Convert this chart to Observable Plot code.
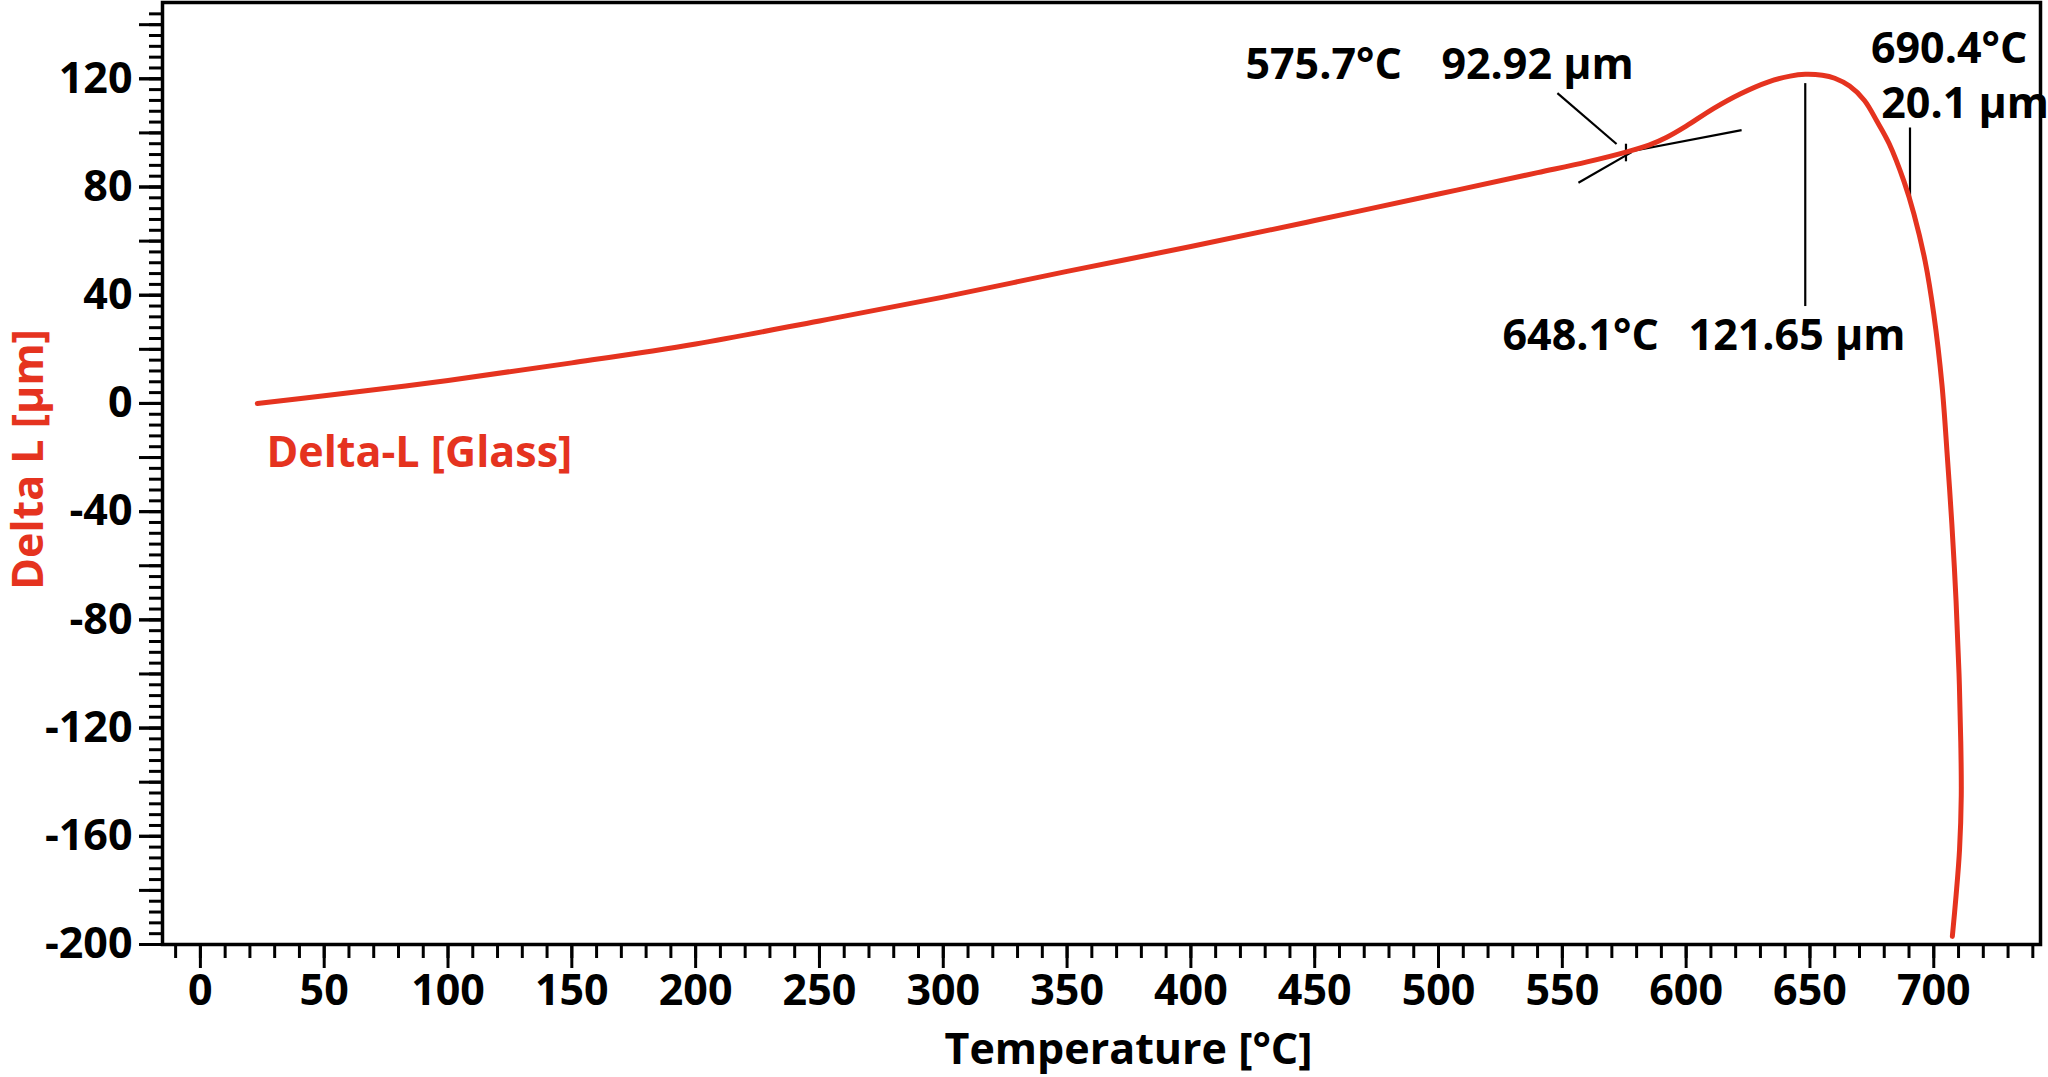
<!DOCTYPE html>
<html>
<head>
<meta charset="utf-8">
<script src="https://cdn.jsdelivr.net/npm/d3@7"></script>
<script src="https://cdn.jsdelivr.net/npm/@observablehq/plot@0.6"></script>
<style>
  html, body { margin: 0; padding: 0; background: #fff; }
  #chart { width: 2048px; height: 1077px; }
</style>
</head>
<body>
<div id="chart"></div>
<script>
// Curve: temperature [°C] vs Delta L [µm]
const temperature = [23, 50, 100, 150, 200, 250, 300, 350, 400, 450, 500, 540, 560, 575.7, 585, 592, 600, 611, 622, 633, 642, 648.1, 655, 660, 666, 672, 677, 682, 688, 692, 696.5, 700, 703.3, 705.5, 707.3, 709.0, 710.2, 710.9, 711.1, 710.4, 709.0, 707.5];
const deltaL      = [0, 2.8, 8.5, 15.0, 22.0, 30.5, 39.3, 48.8, 58.0, 67.6, 77.4, 85.3, 89.3, 92.92, 95.5, 98.3, 102.5, 109.0, 114.5, 118.8, 121.0, 121.65, 121.3, 120.2, 117.3, 112.0, 104.4, 96.0, 82.0, 70.0, 52.6, 33.0, 7.0, -20, -44.5, -73, -100, -125, -145, -165, -182, -197];

// Axis ticks
const xTickLabels = d3.range(0, 701, 50);
const xMinorTicks = d3.range(-10, 741, 10);
const yTickLabels = d3.range(-200, 121, 40);
const yMajorTicks = d3.range(-200, 141, 20);
const yMinorTicks = d3.range(-200, 148, 4);

// Annotations
const annoLabels = ["575.7°C", "92.92 µm", "648.1°C", "121.65 µm", "690.4°C"];
const annoX = [453.6, 540, 557.4, 644.8, 706.2];
const annoY = [125.1, 125.1, 24.9, 24.9, 130.8];
const sideLabel = ["20.1 µm"];
const sideX = [678.8];
const sideY = [110.5];
// annotation segments: x1, y1, x2, y2
const segX1 = [548, 575.7, 556.5, 572, 648.1, 690.4];
const segY1 = [114.7, 89.5, 81.6, 92.2, 118.4, 102];
const segX2 = [571.9, 575.7, 578, 622.4, 648.1, 690.4];
const segY2 = [95.9, 96, 92.9, 101, 36, 75];

const seriesName = "Delta-L [Glass]";
const RED = "#e5331f";
const FONT = "'Open Sans', Roboto, sans-serif";
const FS = 43;

const curve = temperature.map((t, i) => ({t, d: deltaL[i]}));
const annos = annoLabels.map((s, i) => ({s, x: annoX[i], y: annoY[i]}));
const sides = sideLabel.map((s, i) => ({s, x: sideX[i], y: sideY[i]}));
const segs = segX1.map((x1, i) => ({x1, y1: segY1[i], x2: segX2[i], y2: segY2[i]}));
const fmt = d => String(d);

const chart = Plot.plot({
  width: 2048,
  height: 1077,
  marginLeft: 162,
  marginRight: 8,
  marginTop: 2,
  marginBottom: 133,
  style: {fontFamily: FONT, fontWeight: "bold", background: "#fff", overflow: "visible"},
  x: {domain: [-15.3, 743.1]},
  y: {domain: [-200, 148.2]},
  marks: [
    Plot.axisX({ticks: xMinorTicks, tickSize: 14, strokeWidth: 3, text: null, label: null}),
    Plot.axisX({ticks: xTickLabels, tickFormat: fmt, tickSize: 24, tickPadding: 6, strokeWidth: 3, fontSize: FS, fontWeight: "bold", fontFamily: FONT, fill: "#000", label: null}),
    Plot.axisY({ticks: yMinorTicks, tickSize: 13, strokeWidth: 3, text: null, label: null}),
    Plot.axisY({ticks: yMajorTicks, tickSize: 23, strokeWidth: 3, text: null, label: null}),
    Plot.axisY({ticks: yTickLabels, tickFormat: fmt, tickSize: 23, tickPadding: 7, strokeWidth: 3, fontSize: FS, fontWeight: "bold", fontFamily: FONT, fill: "#000", label: null}),
    Plot.frame({stroke: "#000", strokeWidth: 3.5}),
    Plot.link(segs, {x1: "x1", y1: "y1", x2: "x2", y2: "y2", stroke: "#000", strokeWidth: 2.2}),
    Plot.line(curve, {x: "t", y: "d", stroke: RED, strokeWidth: 5, curve: "catmull-rom"}),
    Plot.text(annos, {x: "x", y: "y", text: "s", fontSize: FS, fontWeight: "bold", fontFamily: FONT, fill: "#000", textAnchor: "middle", lineAnchor: "middle"}),
    Plot.text(sides, {x: "x", y: "y", text: "s", fontSize: FS, fontWeight: "bold", fontFamily: FONT, fill: "#000", textAnchor: "start", lineAnchor: "middle"}),
    Plot.text([seriesName], {x: 26.7, y: -18.5, text: d => d, fontSize: FS, fontWeight: "bold", fontFamily: FONT, fill: RED, textAnchor: "start", lineAnchor: "middle"}),
    Plot.text(["Delta L [µm]"], {frameAnchor: "left", text: d => d, rotate: -90, dx: -133, dy: -14, fontSize: FS, fontWeight: "bold", fontFamily: FONT, fill: RED, textAnchor: "middle", lineAnchor: "middle"}),
    Plot.text(["Temperature [°C]"], {frameAnchor: "bottom", text: d => d, dx: 27, dy: 106, fontSize: FS, fontWeight: "bold", fontFamily: FONT, fill: "#000", textAnchor: "middle", lineAnchor: "middle"})
  ]
});
document.getElementById("chart").appendChild(chart);
</script>
</body>
</html>
